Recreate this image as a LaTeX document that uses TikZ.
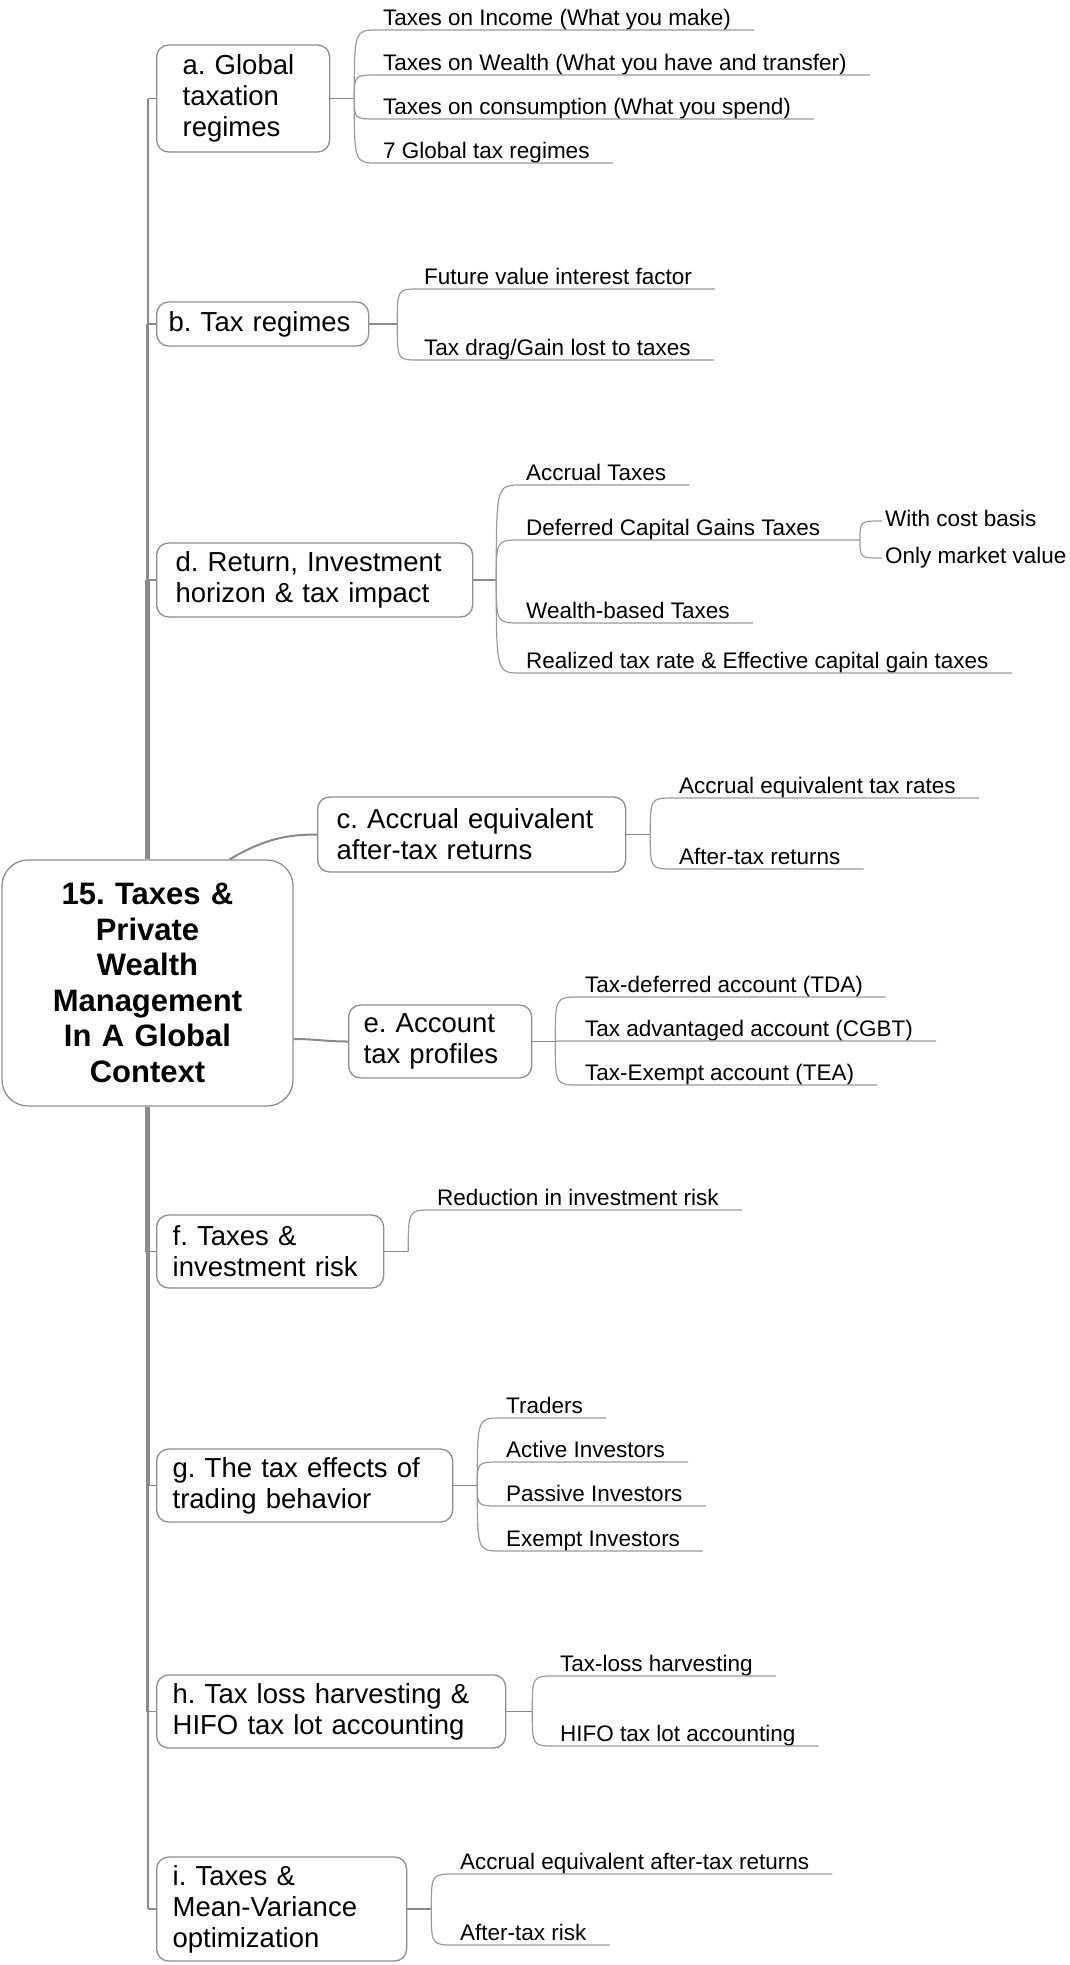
\documentclass[tikz,border=0pt]{standalone}
\usepackage{fontspec}
\setmainfont{Liberation Sans}
\frenchspacing

\definecolor{boxline}{HTML}{8E8E8E}
\definecolor{stemgray}{HTML}{8A8A8A}
\definecolor{twiggray}{HTML}{9A9A9A}

\newcommand{\leaffont}{\fontsize{22.5pt}{26pt}\selectfont}
\newcommand{\topicfont}{\fontsize{27.5pt}{31pt}\selectfont}
\newcommand{\hubfont}{\fontsize{31pt}{35.5pt}\selectfont\bfseries}

\begin{document}
\begin{tikzpicture}[x=1pt, y=-1pt,
    hub/.style={draw=boxline, line width=1.3pt, fill=white, rounded corners=26pt,
                align=center, font=\hubfont, minimum width=291pt,
                minimum height=246pt, text width=270pt, inner sep=0pt},
    topic/.style={draw=boxline, line width=1.3pt, fill=white, rounded corners=12pt,
                  anchor=west, align=left, font=\topicfont,
                  inner xsep=16pt, inner ysep=0pt},
    leaf/.style={anchor=south west, font=\leaffont, inner xsep=5pt,
                 inner ysep=0pt, text height=16pt, text depth=4.5pt},
    twignode/.style={anchor=west, font=\leaffont, inner xsep=3pt,
                     inner ysep=0pt, text height=16pt, text depth=5pt},
    trunk/.style={draw=stemgray},
    stem/.style={draw=stemgray, line width=1.3pt},
    twig/.style={draw=twiggray, line width=1.2pt},
]
\useasboundingbox (0,0) rectangle (1070,1965);

% --- Central topic ---
\node[hub] (cen) at (147.5, 983) {15. Taxes \&\\Private\\Wealth\\Management\\In A Global\\Context};

% --- Main topics ---
\node[topic, text width=121pt, inner xsep=26pt, minimum height=107pt] (ta) at (156, 98.5) {a. Global\\taxation\\regimes};
\node[topic, text width=188pt, inner xsep=12pt, minimum height=44pt] (tb) at (156, 324) {b. Tax regimes};
\node[topic, text width=278pt, inner xsep=19pt, minimum height=74pt] (td) at (156, 580) {d. Return, Investment\\horizon \& tax impact};
\node[topic, text width=270pt, inner xsep=19pt, minimum height=75pt] (tc) at (317, 834.5) {c. Accrual equivalent\\after-tax returns};
\node[topic, text width=153pt, inner xsep=15pt, minimum height=73pt] (te) at (348, 1041.5) {e. Account\\tax profiles};
\node[topic, text width=195pt, inner xsep=16pt, minimum height=73pt] (tf) at (156, 1251.5) {f. Taxes \&\\investment risk};
\node[topic, text width=264pt, inner xsep=16pt, minimum height=73pt] (tg) at (156, 1485.5) {g. The tax effects of\\trading behavior};
\node[topic, text width=317pt, inner xsep=16pt, minimum height=73pt] (th) at (156, 1711.5) {h. Tax loss harvesting \&\\HIFO tax lot accounting};
\node[topic, text width=218pt, inner xsep=16pt, minimum height=104pt] (ti) at (156, 1909) {i. Taxes \&\\Mean-Variance\\optimization};

% --- Trunk (tapers away from the hub) ---
\draw[trunk, line width=4.5pt] (cen.north) -- (cen.north |- td.west);
\draw[trunk, line width=3pt] (cen.north |- td.west) -- (cen.north |- tb.west);
\draw[trunk, line width=2pt] (cen.north |- tb.west) -- (cen.north |- ta.west);
\draw[trunk, line width=5pt] (cen.south) -- (cen.south |- tf.west);
\draw[trunk, line width=4pt] (cen.south |- tf.west) -- (cen.south |- tg.west);
\draw[trunk, line width=3pt] (cen.south |- tg.west) -- (cen.south |- th.west);
\draw[trunk, line width=2pt] (cen.south |- th.west) -- (cen.south |- ti.west);
\draw[stem] (cen.north |- ta.west) -- (ta.west);
\draw[stem] (cen.north |- tb.west) -- (tb.west);
\draw[stem] (cen.north |- td.west) -- (td.west);
\draw[stem] (cen.south |- tf.west) -- (tf.west);
\draw[stem] (cen.south |- tg.west) -- (tg.west);
\draw[stem] (cen.south |- th.west) -- (th.west);
\draw[stem] (cen.south |- ti.west) -- (ti.west);
\draw[stem, line width=2pt] ([xshift=82pt]cen.north) to[out=30, in=180] (tc.west);
\draw[stem, line width=2pt] ([yshift=-56pt]cen.east) to[out=0, in=180] (te.west);

% --- Branch points ---
\coordinate (a-bp) at ([xshift=24pt]ta.east);
\coordinate (b-bp) at ([xshift=28pt]tb.east);
\coordinate (d-bp) at ([xshift=23pt]td.east);
\coordinate (c-bp) at ([xshift=24pt]tc.east);
\coordinate (e-bp) at ([xshift=23pt]te.east);
\coordinate (f-bp) at ([xshift=24pt]tf.east);
\coordinate (g-bp) at ([xshift=24pt]tg.east);
\coordinate (h-bp) at ([xshift=26pt]th.east);
\coordinate (i-bp) at ([xshift=24pt]ti.east);
\coordinate (dd-bp) at (860, 540);

\draw[stem] (ta.east) -- (a-bp);
\draw[stem] (tb.east) -- (b-bp);
\draw[stem] (td.east) -- (d-bp);
\draw[stem] (tc.east) -- (c-bp);
\draw[stem] (te.east) -- (e-bp);
\draw[stem] (tf.east) -- (f-bp);
\draw[stem] (tg.east) -- (g-bp);
\draw[stem] (th.east) -- (h-bp);
\draw[stem] (ti.east) -- (i-bp);

% --- a. Global taxation regimes ---
\node[leaf] (a1) at (378, 30) {Taxes on Income (What you make)};
\node[leaf] (a2) at (378, 75) {Taxes on Wealth (What you have and transfer)};
\node[leaf] (a3) at (378, 119) {Taxes on consumption (What you spend)};
\node[leaf] (a4) at (378, 163) {7 Global tax regimes};
\draw[twig] (a-bp) .. controls (a-bp |- a1.south west) .. (a1.south west) -- ([xshift=18pt]a1.south east);
\draw[twig] (a-bp) .. controls (a-bp |- a2.south west) .. (a2.south west) -- ([xshift=18pt]a2.south east);
\draw[twig] (a-bp) .. controls (a-bp |- a3.south west) .. (a3.south west) -- ([xshift=18pt]a3.south east);
\draw[twig] (a-bp) .. controls (a-bp |- a4.south west) .. (a4.south west) -- ([xshift=18pt]a4.south east);

% --- b. Tax regimes ---
\node[leaf] (b1) at (419, 289) {Future value interest factor};
\node[leaf] (b2) at (419, 360) {Tax drag/Gain lost to taxes};
\draw[twig] (b-bp) .. controls (b-bp |- b1.south west) .. (b1.south west) -- ([xshift=18pt]b1.south east);
\draw[twig] (b-bp) .. controls (b-bp |- b2.south west) .. (b2.south west) -- ([xshift=18pt]b2.south east);

% --- d. Return, investment horizon ---
\node[leaf] (d1) at (521, 485) {Accrual Taxes};
\node[leaf] (d2) at (521, 540) {Deferred Capital Gains Taxes};
\node[leaf] (d3) at (521, 623) {Wealth-based Taxes};
\node[leaf] (d4) at (521, 673) {Realized tax rate \& Effective capital gain taxes};
\draw[twig] (d-bp) .. controls (d-bp |- d1.south west) .. (d1.south west) -- ([xshift=18pt]d1.south east);
\draw[twig] (d-bp) .. controls (d-bp |- d2.south west) .. (d2.south west) -- (dd-bp);
\draw[twig] (d-bp) .. controls (d-bp |- d3.south west) .. (d3.south west) -- ([xshift=18pt]d3.south east);
\draw[twig] (d-bp) .. controls (d-bp |- d4.south west) .. (d4.south west) -- ([xshift=18pt]d4.south east);

\node[twignode] (d21) at (882, 521) {With cost basis};
\node[twignode] (d22) at (882, 558) {Only market value};
\draw[twig] (dd-bp) .. controls (dd-bp |- d21.west) .. (d21.west);
\draw[twig] (dd-bp) .. controls (dd-bp |- d22.west) .. (d22.west);

% --- c. Accrual equivalent ---
\node[leaf] (c1) at (674, 798) {Accrual equivalent tax rates};
\node[leaf] (c2) at (674, 869) {After-tax returns};
\draw[twig] (c-bp) .. controls (c-bp |- c1.south west) .. (c1.south west) -- ([xshift=18pt]c1.south east);
\draw[twig] (c-bp) .. controls (c-bp |- c2.south west) .. (c2.south west) -- ([xshift=18pt]c2.south east);

% --- e. Account tax profiles ---
\node[leaf] (e1) at (580, 997) {Tax-deferred account (TDA)};
\node[leaf] (e2) at (580, 1041) {Tax advantaged account (CGBT)};
\node[leaf] (e3) at (580, 1085) {Tax-Exempt account (TEA)};
\draw[twig] (e-bp) .. controls (e-bp |- e1.south west) .. (e1.south west) -- ([xshift=18pt]e1.south east);
\draw[twig] (e-bp) .. controls (e-bp |- e2.south west) .. (e2.south west) -- ([xshift=18pt]e2.south east);
\draw[twig] (e-bp) .. controls (e-bp |- e3.south west) .. (e3.south west) -- ([xshift=18pt]e3.south east);

% --- f. Taxes & investment risk ---
\node[leaf] (f1) at (432, 1210) {Reduction in investment risk};
\draw[twig] (f-bp) .. controls (f-bp |- f1.south west) .. (f1.south west) -- ([xshift=18pt]f1.south east);

% --- g. Trading behavior ---
\node[leaf] (g1) at (501, 1418) {Traders};
\node[leaf] (g2) at (501, 1462) {Active Investors};
\node[leaf] (g3) at (501, 1506) {Passive Investors};
\node[leaf] (g4) at (501, 1551) {Exempt Investors};
\draw[twig] (g-bp) .. controls (g-bp |- g1.south west) .. (g1.south west) -- ([xshift=18pt]g1.south east);
\draw[twig] (g-bp) .. controls (g-bp |- g2.south west) .. (g2.south west) -- ([xshift=18pt]g2.south east);
\draw[twig] (g-bp) .. controls (g-bp |- g3.south west) .. (g3.south west) -- ([xshift=18pt]g3.south east);
\draw[twig] (g-bp) .. controls (g-bp |- g4.south west) .. (g4.south west) -- ([xshift=18pt]g4.south east);

% --- h. Tax loss harvesting ---
\node[leaf] (h1) at (555, 1676) {Tax-loss harvesting};
\node[leaf] (h2) at (555, 1746) {HIFO tax lot accounting};
\draw[twig] (h-bp) .. controls (h-bp |- h1.south west) .. (h1.south west) -- ([xshift=18pt]h1.south east);
\draw[twig] (h-bp) .. controls (h-bp |- h2.south west) .. (h2.south west) -- ([xshift=18pt]h2.south east);

% --- i. Mean-variance optimization ---
\node[leaf] (i1) at (455, 1874) {Accrual equivalent after-tax returns};
\node[leaf] (i2) at (455, 1945) {After-tax risk};
\draw[twig] (i-bp) .. controls (i-bp |- i1.south west) .. (i1.south west) -- ([xshift=18pt]i1.south east);
\draw[twig] (i-bp) .. controls (i-bp |- i2.south west) .. (i2.south west) -- ([xshift=18pt]i2.south east);

\end{tikzpicture}
\end{document}
